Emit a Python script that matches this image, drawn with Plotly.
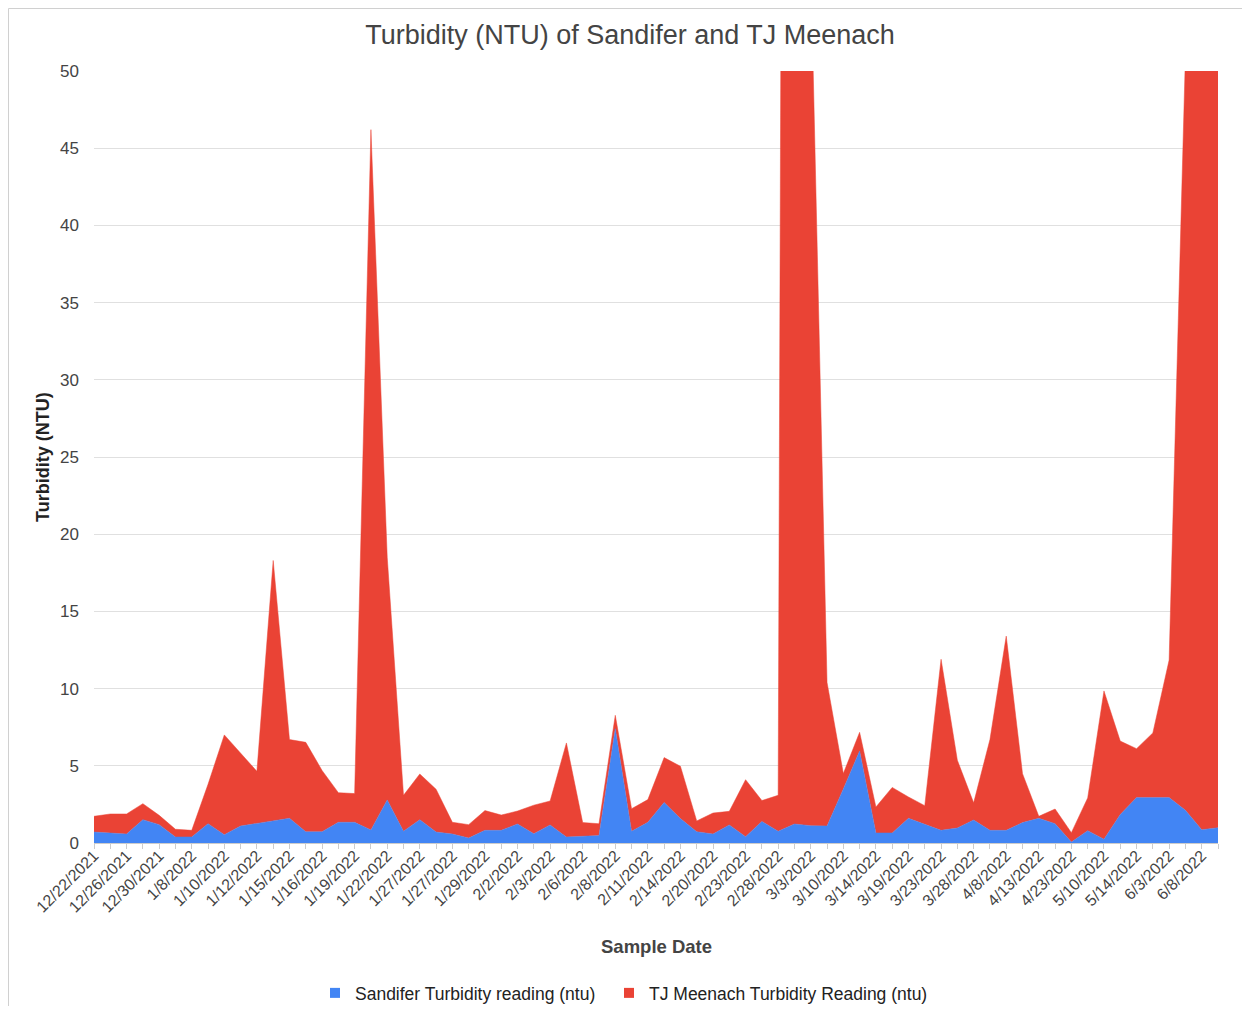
import plotly.graph_objects as go

dates = [
    "12/22/2021", "12/24/2021", "12/26/2021", "12/28/2021", "12/30/2021", "1/4/2022",
    "1/8/2022", "1/9/2022", "1/10/2022", "1/11/2022", "1/12/2022", "1/14/2022",
    "1/15/2022", "1/15/2022", "1/16/2022", "1/18/2022", "1/19/2022", "1/21/2022",
    "1/22/2022", "1/25/2022", "1/27/2022", "1/27/2022", "1/27/2022", "1/28/2022",
    "1/29/2022", "2/1/2022", "2/2/2022", "2/2/2022", "2/3/2022", "2/5/2022",
    "2/6/2022", "2/7/2022", "2/8/2022", "2/10/2022", "2/11/2022", "2/13/2022",
    "2/14/2022", "2/17/2022", "2/20/2022", "2/22/2022", "2/23/2022", "2/25/2022",
    "2/28/2022", "3/1/2022", "3/3/2022", "3/7/2022", "3/10/2022", "3/12/2022",
    "3/14/2022", "3/17/2022", "3/19/2022", "3/21/2022", "3/23/2022", "3/25/2022",
    "3/28/2022", "4/4/2022", "4/8/2022", "4/11/2022", "4/13/2022", "4/18/2022",
    "4/23/2022", "5/3/2022", "5/10/2022", "5/12/2022", "5/14/2022", "5/24/2022",
    "6/3/2022", "6/6/2022", "6/8/2022", "6/10/2022",
]

sandifer = [
    0.71, 0.65, 0.58, 1.51, 1.19, 0.39, 0.39, 1.25, 0.54, 1.10,
    1.27, 1.43, 1.60, 0.73, 0.73, 1.34, 1.34, 0.84, 2.79, 0.76,
    1.51, 0.71, 0.58, 0.32, 0.82, 0.82, 1.23, 0.60, 1.17, 0.39,
    0.45, 0.48, 7.40, 0.76, 1.34, 2.63, 1.58, 0.73, 0.58, 1.17,
    0.41, 1.40, 0.76, 1.23, 1.12, 1.10, 3.50, 5.96, 0.65, 0.65,
    1.60, 1.21, 0.82, 0.97, 1.49, 0.82, 0.82, 1.32, 1.60, 1.25,
    0.06, 0.80, 0.24, 1.84, 2.94, 2.94, 2.94, 2.12, 0.86, 0.99,
]

tj_meenach = [
    1.02, 1.23, 1.30, 1.04, 0.60, 0.50, 0.43, 2.55, 6.46, 4.69,
    3.37, 16.87, 5.10, 5.79, 3.97, 1.92, 1.86, 45.36, 15.71, 2.33,
    2.96, 2.77, 0.76, 0.87, 1.28, 0.99, 0.84, 1.85, 1.55, 6.09,
    0.87, 0.77, 0.87, 1.46, 1.47, 2.90, 3.39, 0.70, 1.36, 0.88,
    3.69, 1.35, 2.33, 298.8, 55.88, 9.30, 1.00, 1.21, 1.68, 2.95,
    1.38, 1.21, 11.08, 4.39, 1.11, 5.88, 12.58, 3.17, 0.13, 0.95,
    0.61, 2.12, 9.61, 4.76, 3.17, 4.19, 8.91, 48.88, 149.1, 149.0,
]

y_ticks = [0, 5, 10, 15, 20, 25, 30, 35, 40, 45, 50]

series_names = ["Sandifer Turbidity reading (ntu)", "TJ Meenach Turbidity Reading (ntu)"]

BLUE = "#4285F4"
RED = "#EA4335"
FONT = "Arial, Liberation Sans, sans-serif"

x_idx = list(range(len(dates)))
label_idx = x_idx[::2]
label_txt = [dates[i] for i in label_idx]

fig = go.Figure()
for vals, name, col in [(sandifer, series_names[0], BLUE), (tj_meenach, series_names[1], RED)]:
    fig.add_trace(go.Scatter(
        x=x_idx, y=vals, name=name, mode="lines", stackgroup="one",
        line=dict(color=col, width=0.5), fillcolor=col, showlegend=False,
    ))
for name, col, lg in [(series_names[0], BLUE, "legend"), (series_names[1], RED, "legend2")]:
    fig.add_trace(go.Scatter(
        x=[None], y=[None], name=name, mode="markers", legend=lg,
        marker=dict(symbol="square", size=10, color=col), showlegend=True,
    ))

# the page has an 8px body margin: figure coordinates = page coordinates - 8
W, H = 1234, 998
L, R, T, B = 86, 24, 63, 163
pw, ph = W - L - R, H - T - B


def px_x(x):
    return (x - L) / pw


def px_y(y):
    return (H - B - y) / ph


legend_style = dict(orientation="h", xanchor="left", y=px_y(985), yanchor="middle",
                    font=dict(size=17.5, color="#222222", family=FONT),
                    itemwidth=30, bgcolor="rgba(0,0,0,0)")

fig.update_layout(
    width=W, height=H,
    margin=dict(l=L, r=R, t=T, b=B, autoexpand=False),
    paper_bgcolor="white", plot_bgcolor="white",
    font=dict(family=FONT, color="#444444"),
    title=dict(text="Turbidity (NTU) of Sandifer and TJ Meenach",
               x=622 / W, xanchor="center", y=1 - 27 / H, yanchor="middle",
               font=dict(size=27, color="#444444", family=FONT)),
    showlegend=True,
    legend=dict(x=px_x(307), **legend_style),
    legend2=dict(x=px_x(601), **legend_style),
    xaxis=dict(
        range=[0, len(dates) - 1], automargin=False,
        tickmode="array", tickvals=label_idx, ticktext=label_txt,
        tickangle=-45, tickfont=dict(size=16, color="#444444"),
        ticks="outside", ticklen=5, tickcolor="#cccccc",
        ticklabelstandoff=-9,
        minor=dict(tickvals=x_idx, ticks="outside", ticklen=5, tickcolor="#cccccc"),
        showgrid=False, zeroline=False,
        showline=True, linecolor="#cccccc",
    ),
    yaxis=dict(
        range=[0, 50], tickmode="array", tickvals=y_ticks, automargin=False,
        tickfont=dict(size=17, color="#444444"),
        showgrid=True, gridcolor="#e0e0e0", gridwidth=1,
        zeroline=False, ticks="", ticklabelstandoff=14,
    ),
    annotations=[
        dict(text="<b>Sample Date</b>", xref="paper", yref="paper",
             x=0.5, y=px_y(938), xanchor="center", yanchor="middle", showarrow=False,
             font=dict(size=18.5, color="#444444", family=FONT)),
        dict(text="<b>Turbidity (NTU)</b>", xref="paper", yref="paper",
             x=px_x(35), y=0.5, xanchor="center", yanchor="middle", showarrow=False,
             textangle=-90, font=dict(size=18, color="#222222", family=FONT)),
    ],
    shapes=[
        dict(type="line", xref="paper", yref="paper",
             x0=px_x(0.5), x1=px_x(W), y0=px_y(0.5), y1=px_y(0.5),
             line=dict(color="#d0d0d0", width=1)),
        dict(type="line", xref="paper", yref="paper",
             x0=px_x(0.5), x1=px_x(0.5), y0=px_y(0.5), y1=px_y(H),
             line=dict(color="#d0d0d0", width=1)),
    ],
)

fig.write_html("out.html")
